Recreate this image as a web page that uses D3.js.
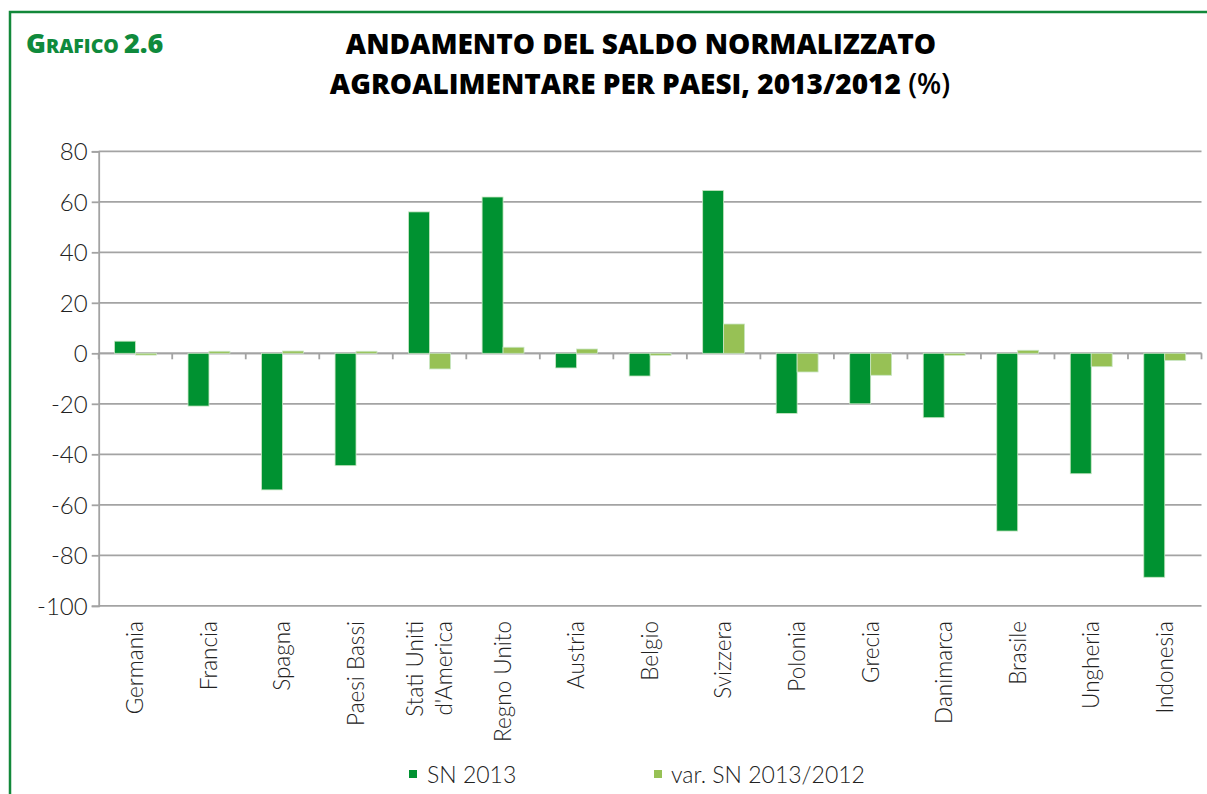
<!DOCTYPE html>
<html><head><meta charset="utf-8">
<script src="https://cdn.jsdelivr.net/npm/d3@7"></script>
<style>
html,body{margin:0;padding:0;background:#fff;}
svg{display:block;font-family:"Lato","Open Sans",sans-serif;}
</style></head>
<body>
<svg id="c" width="1207" height="794"></svg>
<script>
const categories = ["Germania","Francia","Spagna","Paesi Bassi","Stati Uniti\nd'America","Regno Unito","Austria","Belgio","Svizzera","Polonia","Grecia","Danimarca","Brasile","Ungheria","Indonesia"];
const sn2013 = [4.8,-20.9,-54.1,-44.5,56.0,61.9,-5.8,-9.0,64.5,-23.8,-20.0,-25.5,-70.4,-47.7,-88.7];
const varSn = [-0.7,0.8,0.9,0.8,-6.2,2.4,1.7,-0.8,11.6,-7.4,-8.7,-0.8,1.2,-5.3,-2.8];
const seriesNames = ["SN 2013","var. SN 2013/2012"];
const yTicks = [80,60,40,20,0,-20,-40,-60,-80,-100];
const colors = ["#009231","#97c155"];

(function(){
const svg = d3.select("#c");
const pL = 98.7, pR = 1201.5, pT = 151.3, pB = 605.8;

// frame
svg.append("path").attr("d","M10,794 L10,12 L1207,12").attr("fill","none").attr("stroke","#12883a").attr("stroke-width",2.5);

// title
const g0 = svg.append("text").attr("x",26).attr("y",53).attr("fill","#0f8a3c").attr("font-family","'Open Sans',sans-serif").attr("font-weight",800);
g0.append("tspan").attr("font-size",27).text("G");
g0.append("tspan").attr("font-size",19.5).text("RAFICO ");
g0.append("tspan").attr("font-size",27).text("2.6");
svg.append("text").attr("x",641).attr("y",54).attr("text-anchor","middle").attr("font-family","'Open Sans',sans-serif").attr("font-weight",800).attr("font-size",28).attr("fill","#000").text("ANDAMENTO DEL SALDO NORMALIZZATO");
const t2 = svg.append("text").attr("x",640).attr("y",94).attr("text-anchor","middle").attr("font-family","'Open Sans',sans-serif").attr("font-weight",800).attr("font-size",28).attr("fill","#000");
t2.append("tspan").text("AGROALIMENTARE PER PAESI, 2013/2012 ");
t2.append("tspan").attr("font-weight",600).text("(%)");

const y = d3.scaleLinear().domain([-100,80]).range([pB, pT]);
const x0 = d3.scaleBand().domain(categories).range([pL, pR]).paddingInner(0.43).paddingOuter(0.215);
const x1 = d3.scaleBand().domain([0,1]).range([0, x0.bandwidth()]);

// gridlines
svg.append("g").selectAll("line").data(yTicks).join("line")
  .attr("x1",pL).attr("x2",pR).attr("y1",d=>y(d)).attr("y2",d=>y(d))
  .attr("stroke","#a3a3a3").attr("stroke-width",1.8);

// y axis
const ya = svg.append("g").attr("transform",`translate(${pL},0)`)
  .call(d3.axisLeft(y).tickValues(yTicks).tickFormat(d=>String(d)).tickSize(7).tickPadding(4));
ya.select(".domain").attr("stroke","#a3a3a3").attr("stroke-width",1.8);
ya.selectAll(".tick line").attr("stroke","#a3a3a3").attr("stroke-width",1.8);
ya.selectAll(".tick text").attr("font-size",24).attr("fill","#222").attr("font-weight",300).attr("font-family","Lato, 'Open Sans', sans-serif").attr("dy","0.36em");

// x axis ticks at category boundaries
const step = (pR-pL)/categories.length;
const bounds = d3.range(categories.length+1).map(i=>pL+i*step);
svg.append("g").selectAll("line").data(bounds).join("line")
  .attr("x1",d=>d).attr("x2",d=>d).attr("y1",y(0)).attr("y2",y(0)+6)
  .attr("stroke","#a3a3a3").attr("stroke-width",1.8);
svg.append("line").attr("x1",pL).attr("x2",pR).attr("y1",y(0)).attr("y2",y(0)).attr("stroke","#a3a3a3").attr("stroke-width",1.8);

// bars
const groups = svg.append("g").selectAll("g").data(categories.map((c,i)=>({c,v:[sn2013[i],varSn[i]]}))).join("g")
  .attr("transform",d=>`translate(${x0(d.c)},0)`);
groups.selectAll("rect").data(d=>d.v.map((v,k)=>({v,k}))).join("rect")
  .attr("x",d=>x1(d.k)).attr("width",x1.bandwidth())
  .attr("y",d=>y(Math.max(0,d.v))).attr("height",d=>Math.abs(y(d.v)-y(0)))
  .attr("fill",d=>colors[d.k]).attr("stroke","#c9e6c4").attr("stroke-width",0.8);

// category labels
const lab = svg.append("g").selectAll("text").data(categories).join("text")
  .attr("transform",d=>`translate(${x0(d)+x0.bandwidth()/2},621) rotate(-90)`)
  .attr("text-anchor","end").attr("font-size",22.5).attr("font-weight",300).attr("fill","#222");
lab.each(function(d){
  const lines = d.split("\n");
  const el = d3.select(this);
  lines.forEach((l,i)=>{
    el.append("tspan").attr("x",0).attr("dy", i===0 ? (lines.length===1? "0.35em" : (0.35-0.64)+"em") : "1.28em").text(l);
  });
});

// legend
const leg = [{x:409,tx:427},{x:654,tx:671}];
seriesNames.forEach((n,i)=>{
  svg.append("rect").attr("x",leg[i].x).attr("y",770).attr("width",8).attr("height",8).attr("fill",colors[i]);
  svg.append("text").attr("x",leg[i].tx).attr("y",783).attr("font-size",23).attr("font-weight",300).attr("fill","#222").text(n);
});
})();
</script>
</body></html>
